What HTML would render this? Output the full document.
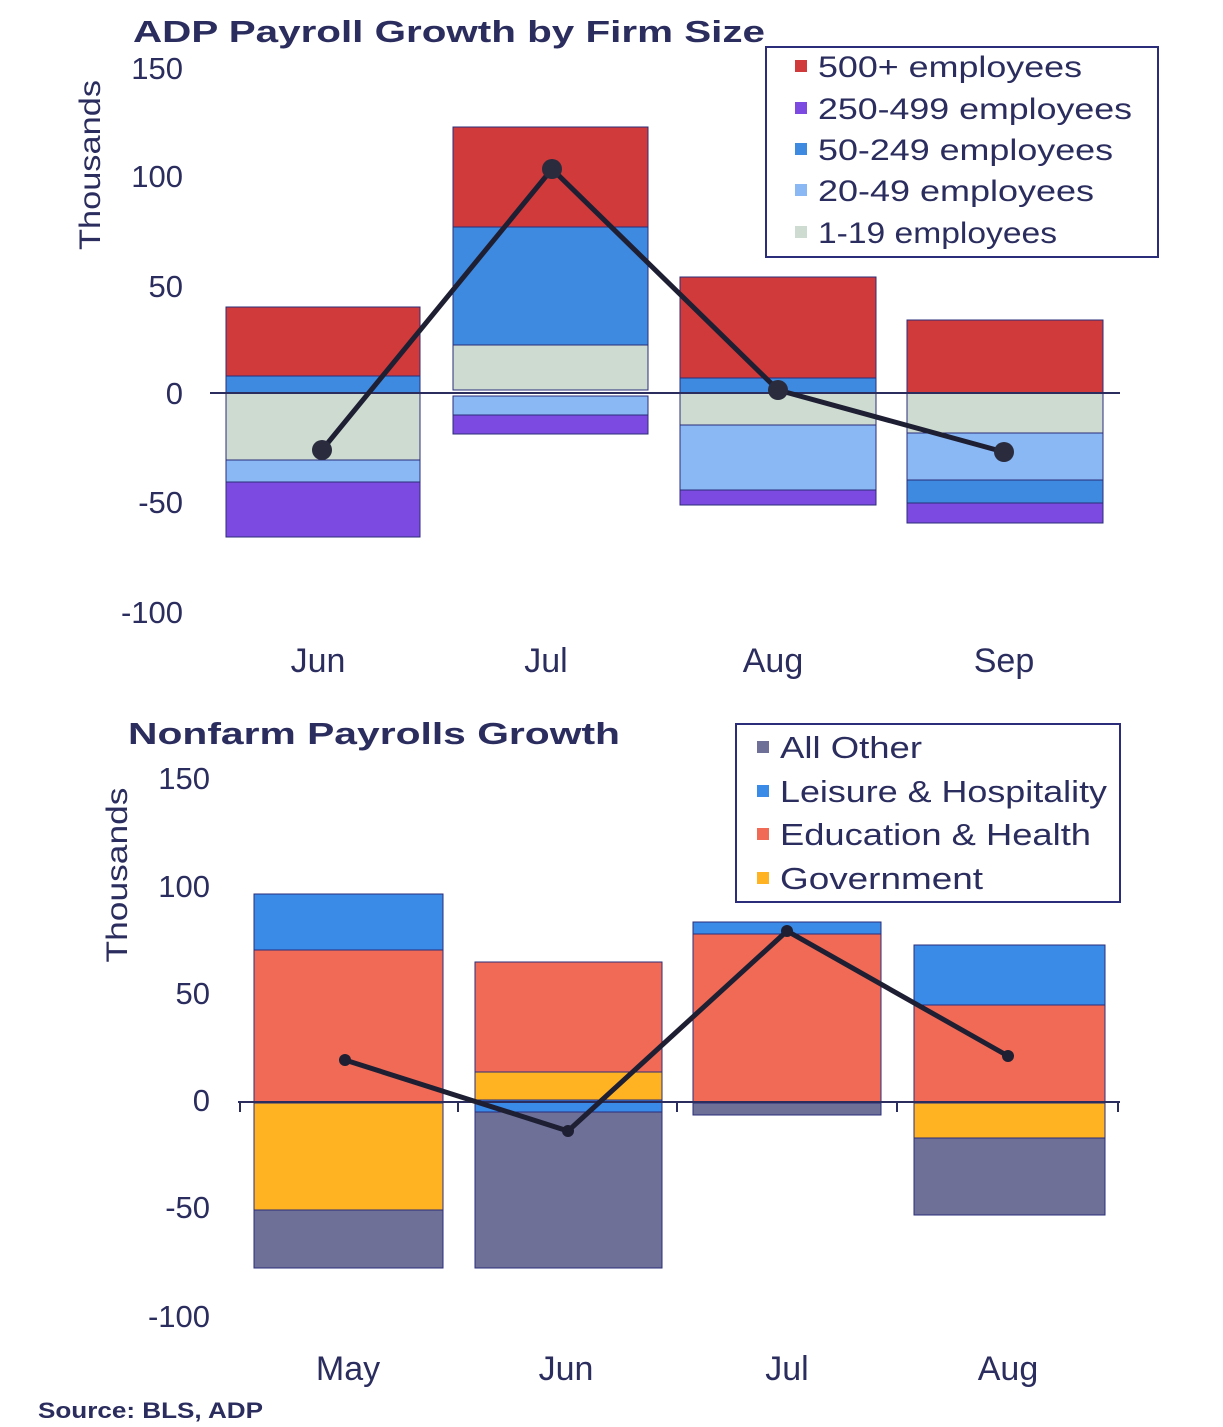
<!DOCTYPE html>
<html><head><meta charset="utf-8"><style>
html,body{margin:0;padding:0;background:#fff;}
svg{display:block;font-family:"Liberation Sans",sans-serif;}
</style></head><body>
<svg width="1223" height="1427" viewBox="0 0 1223 1427" xmlns="http://www.w3.org/2000/svg">
<g fill="#2b2d5e">
<text x="133" y="42" font-size="31" font-weight="bold" textLength="632" lengthAdjust="spacingAndGlyphs">ADP Payroll Growth by Firm Size</text>
<g font-size="31" text-anchor="end">
<text x="183" y="79">150</text><text x="183" y="187">100</text><text x="183" y="297">50</text>
<text x="183" y="404">0</text><text x="183" y="513">-50</text><text x="183" y="623">-100</text>
</g>
<text transform="translate(100,165) rotate(-90)" font-size="30" text-anchor="middle" textLength="170" lengthAdjust="spacingAndGlyphs">Thousands</text>
<g font-size="34" text-anchor="middle">
<text x="318" y="672">Jun</text><text x="546" y="672">Jul</text><text x="773" y="672">Aug</text><text x="1004" y="672">Sep</text>
</g>
</g>
<g stroke="#2b2d7a" stroke-width="1">
<rect x="226" y="307" width="194" height="69" fill="#d03a3a"/>
<rect x="226" y="376" width="194" height="17" fill="#3e8ae0"/>
<rect x="226" y="393" width="194" height="67" fill="#cddbd0"/>
<rect x="226" y="460" width="194" height="22" fill="#8ab8f5"/>
<rect x="226" y="482" width="194" height="55" fill="#7c4ae0"/>
<rect x="453" y="127" width="195" height="100" fill="#d03a3a"/>
<rect x="453" y="227" width="195" height="118" fill="#3e8ae0"/>
<rect x="453" y="345" width="195" height="45" fill="#cddbd0"/>
<rect x="453" y="396" width="195" height="19" fill="#8ab8f5"/>
<rect x="453" y="415" width="195" height="19" fill="#7c4ae0"/>
<rect x="680" y="277" width="196" height="101" fill="#d03a3a"/>
<rect x="680" y="378" width="196" height="15" fill="#3e8ae0"/>
<rect x="680" y="393" width="196" height="32" fill="#cddbd0"/>
<rect x="680" y="425" width="196" height="65" fill="#8ab8f5"/>
<rect x="680" y="490" width="196" height="15" fill="#7c4ae0"/>
<rect x="907" y="320" width="196" height="73" fill="#d03a3a"/>
<rect x="907" y="393" width="196" height="40" fill="#cddbd0"/>
<rect x="907" y="433" width="196" height="47" fill="#8ab8f5"/>
<rect x="907" y="480" width="196" height="23" fill="#3e8ae0"/>
<rect x="907" y="503" width="196" height="20" fill="#7c4ae0"/>
</g>
<line x1="210" y1="393" x2="1120" y2="393" stroke="#2b2d5e" stroke-width="2"/>
<polyline points="322,450 552,169 778,390 1004,452" fill="none" stroke="#1e1f33" stroke-width="5"/>
<g fill="#2a2c3e"><circle cx="322" cy="450" r="10"/><circle cx="552" cy="169" r="10"/><circle cx="778" cy="390" r="10"/><circle cx="1004" cy="452" r="10"/></g>
<rect x="766" y="47" width="392" height="210" fill="#fff" stroke="#2b2d7a" stroke-width="2"/>
<g font-size="30" fill="#2b2d5e" lengthAdjust="spacingAndGlyphs">
<rect x="795" y="60" width="12" height="12" fill="#d03a3a"/><text x="818" y="77" textLength="264" lengthAdjust="spacingAndGlyphs">500+ employees</text>
<rect x="795" y="102" width="12" height="12" fill="#7c4ae0"/><text x="818" y="119" textLength="314" lengthAdjust="spacingAndGlyphs">250-499 employees</text>
<rect x="795" y="143" width="12" height="12" fill="#3e8ae0"/><text x="818" y="160" textLength="295" lengthAdjust="spacingAndGlyphs">50-249 employees</text>
<rect x="795" y="184" width="12" height="12" fill="#8ab8f5"/><text x="818" y="201" textLength="276" lengthAdjust="spacingAndGlyphs">20-49 employees</text>
<rect x="795" y="226" width="12" height="12" fill="#cddbd0"/><text x="818" y="243" textLength="239" lengthAdjust="spacingAndGlyphs">1-19 employees</text>
</g>

<g fill="#2b2d5e">
<text x="128" y="744" font-size="31" font-weight="bold" textLength="492" lengthAdjust="spacingAndGlyphs">Nonfarm Payrolls Growth</text>
<g font-size="31" text-anchor="end">
<text x="210" y="789">150</text><text x="210" y="897">100</text><text x="210" y="1004">50</text>
<text x="210" y="1111">0</text><text x="210" y="1218">-50</text><text x="210" y="1327">-100</text>
</g>
<text transform="translate(127,875) rotate(-90)" font-size="30" text-anchor="middle" textLength="175" lengthAdjust="spacingAndGlyphs">Thousands</text>
<g font-size="34" text-anchor="middle">
<text x="348" y="1380">May</text><text x="566" y="1380">Jun</text><text x="787" y="1380">Jul</text><text x="1008" y="1380">Aug</text>
</g>
</g>
<g stroke="#2b2d7a" stroke-width="1">
<rect x="254" y="894" width="189" height="56" fill="#3a8ae8"/>
<rect x="254" y="950" width="189" height="153" fill="#f06a55"/>
<rect x="254" y="1103" width="189" height="107" fill="#ffb323"/>
<rect x="254" y="1210" width="189" height="58" fill="#6e7098"/>
<rect x="475" y="962" width="187" height="110" fill="#f06a55"/>
<rect x="475" y="1072" width="187" height="28" fill="#ffb323"/>
<rect x="475" y="1100" width="187" height="12" fill="#3a8ae8"/>
<rect x="475" y="1112" width="187" height="156" fill="#6e7098"/>
<rect x="693" y="922" width="188" height="12" fill="#3a8ae8"/>
<rect x="693" y="934" width="188" height="169" fill="#f06a55"/>
<rect x="693" y="1103" width="188" height="12" fill="#6e7098"/>
<rect x="914" y="945" width="191" height="60" fill="#3a8ae8"/>
<rect x="914" y="1005" width="191" height="98" fill="#f06a55"/>
<rect x="914" y="1103" width="191" height="35" fill="#ffb323"/>
<rect x="914" y="1138" width="191" height="77" fill="#6e7098"/>
</g>
<g stroke="#2b2d5e" stroke-width="2">
<line x1="238" y1="1102" x2="1120" y2="1102"/>
<line x1="240" y1="1102" x2="240" y2="1112"/><line x1="458" y1="1102" x2="458" y2="1112"/>
<line x1="677" y1="1102" x2="677" y2="1112"/><line x1="897" y1="1102" x2="897" y2="1112"/>
<line x1="1118" y1="1102" x2="1118" y2="1112"/>
</g>
<polyline points="345,1060 568,1131 787,931 1008,1056" fill="none" stroke="#1e1f33" stroke-width="5"/>
<g fill="#1e1f33"><circle cx="345" cy="1060" r="6"/><circle cx="568" cy="1131" r="6"/><circle cx="787" cy="931" r="6"/><circle cx="1008" cy="1056" r="6"/></g>
<rect x="736" y="724" width="384" height="178" fill="#fff" stroke="#2b2d7a" stroke-width="2"/>
<g font-size="31" fill="#2b2d5e">
<rect x="757" y="741" width="12" height="12" fill="#6e7098"/><text x="780" y="758" textLength="142" lengthAdjust="spacingAndGlyphs">All Other</text>
<rect x="757" y="785" width="12" height="12" fill="#3a8ae8"/><text x="780" y="802" textLength="327" lengthAdjust="spacingAndGlyphs">Leisure &amp; Hospitality</text>
<rect x="757" y="828" width="12" height="12" fill="#f06a55"/><text x="780" y="845" textLength="311" lengthAdjust="spacingAndGlyphs">Education &amp; Health</text>
<rect x="757" y="872" width="12" height="12" fill="#ffb323"/><text x="780" y="889" textLength="203" lengthAdjust="spacingAndGlyphs">Government</text>
</g>
<text x="38" y="1418" font-size="22" font-weight="bold" fill="#2b2d5e" textLength="225" lengthAdjust="spacingAndGlyphs">Source: BLS, ADP</text>
</svg>
</body></html>
